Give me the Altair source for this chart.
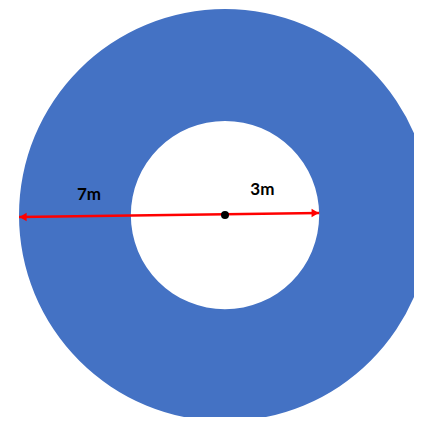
import math
import altair as alt
import pandas as pd

# Ring (annulus) as drawn, in diagram units (metres of the sketch)
ring_outer = [7.0]
ring_inner = [3.2]

# Red arrow (outer edge -> inner edge through the centre)
arrow_x = [-7.0, 3.2]
arrow_y = [-0.034, 0.102]

# Centre dot
center_x = [0.0]
center_y = [0.03]

# Labels
labels = ["7m", "3m"]
label_x = [-4.62, 1.27]
label_y = [0.70, 0.87]

PX = 206 / 7.0
W, H = 406, 409
CX, CY = 217, 208
x_scale = alt.Scale(domain=[-CX / PX, (W - CX) / PX], nice=False, zero=False)
y_scale = alt.Scale(domain=[CY / PX - H / PX, CY / PX], nice=False, zero=False)
r_scale = alt.Scale(type="linear", domain=[0, 7], range=[0, 206], zero=True)

ring_df = pd.DataFrame({"cx": center_x, "cy": center_y, "outer": ring_outer, "inner": ring_inner})
ring = alt.Chart(ring_df).mark_arc(theta=0, theta2=2 * math.pi, color="#4472C4").encode(
    x=alt.X("cx:Q", scale=x_scale, axis=None),
    y=alt.Y("cy:Q", scale=y_scale, axis=None),
    radius=alt.Radius("outer:Q", scale=r_scale),
    radius2=alt.Radius2("inner:Q"),
)

arrow_df = pd.DataFrame({"x": arrow_x, "y": arrow_y})
line = alt.Chart(arrow_df).mark_line(color="#FF0000", strokeWidth=2.5).encode(
    x=alt.X("x:Q", scale=x_scale, axis=None),
    y=alt.Y("y:Q", scale=y_scale, axis=None),
)

left_df = pd.DataFrame({"x": arrow_x[:1], "y": arrow_y[:1]})
right_df = pd.DataFrame({"x": arrow_x[1:], "y": arrow_y[1:]})
head_left = alt.Chart(left_df).mark_point(
    shape="triangle-left", filled=True, color="#FF0000", size=70, opacity=1, xOffset=4
).encode(x=alt.X("x:Q", scale=x_scale, axis=None), y=alt.Y("y:Q", scale=y_scale, axis=None))
head_right = alt.Chart(right_df).mark_point(
    shape="triangle-right", filled=True, color="#FF0000", size=70, opacity=1, xOffset=-4
).encode(x=alt.X("x:Q", scale=x_scale, axis=None), y=alt.Y("y:Q", scale=y_scale, axis=None))

dot_df = pd.DataFrame({"x": center_x, "y": center_y})
dot = alt.Chart(dot_df).mark_point(filled=True, color="black", size=64, opacity=1).encode(
    x=alt.X("x:Q", scale=x_scale, axis=None),
    y=alt.Y("y:Q", scale=y_scale, axis=None),
)

lab_df = pd.DataFrame({"x": label_x, "y": label_y, "t": labels})
text = alt.Chart(lab_df).mark_text(
    font="Lato", fontWeight="bold", fontSize=17, color="black", align="center", baseline="middle"
).encode(
    x=alt.X("x:Q", scale=x_scale, axis=None),
    y=alt.Y("y:Q", scale=y_scale, axis=None),
    text="t:N",
)

chart = alt.layer(ring, line, head_left, head_right, dot, text).properties(
    width=W, height=H, autosize=alt.AutoSizeParams(type="none"), padding=0, background="white"
).configure_view(stroke=None)

chart.save("out.html", embed_options={"renderer": "svg", "actions": False})
